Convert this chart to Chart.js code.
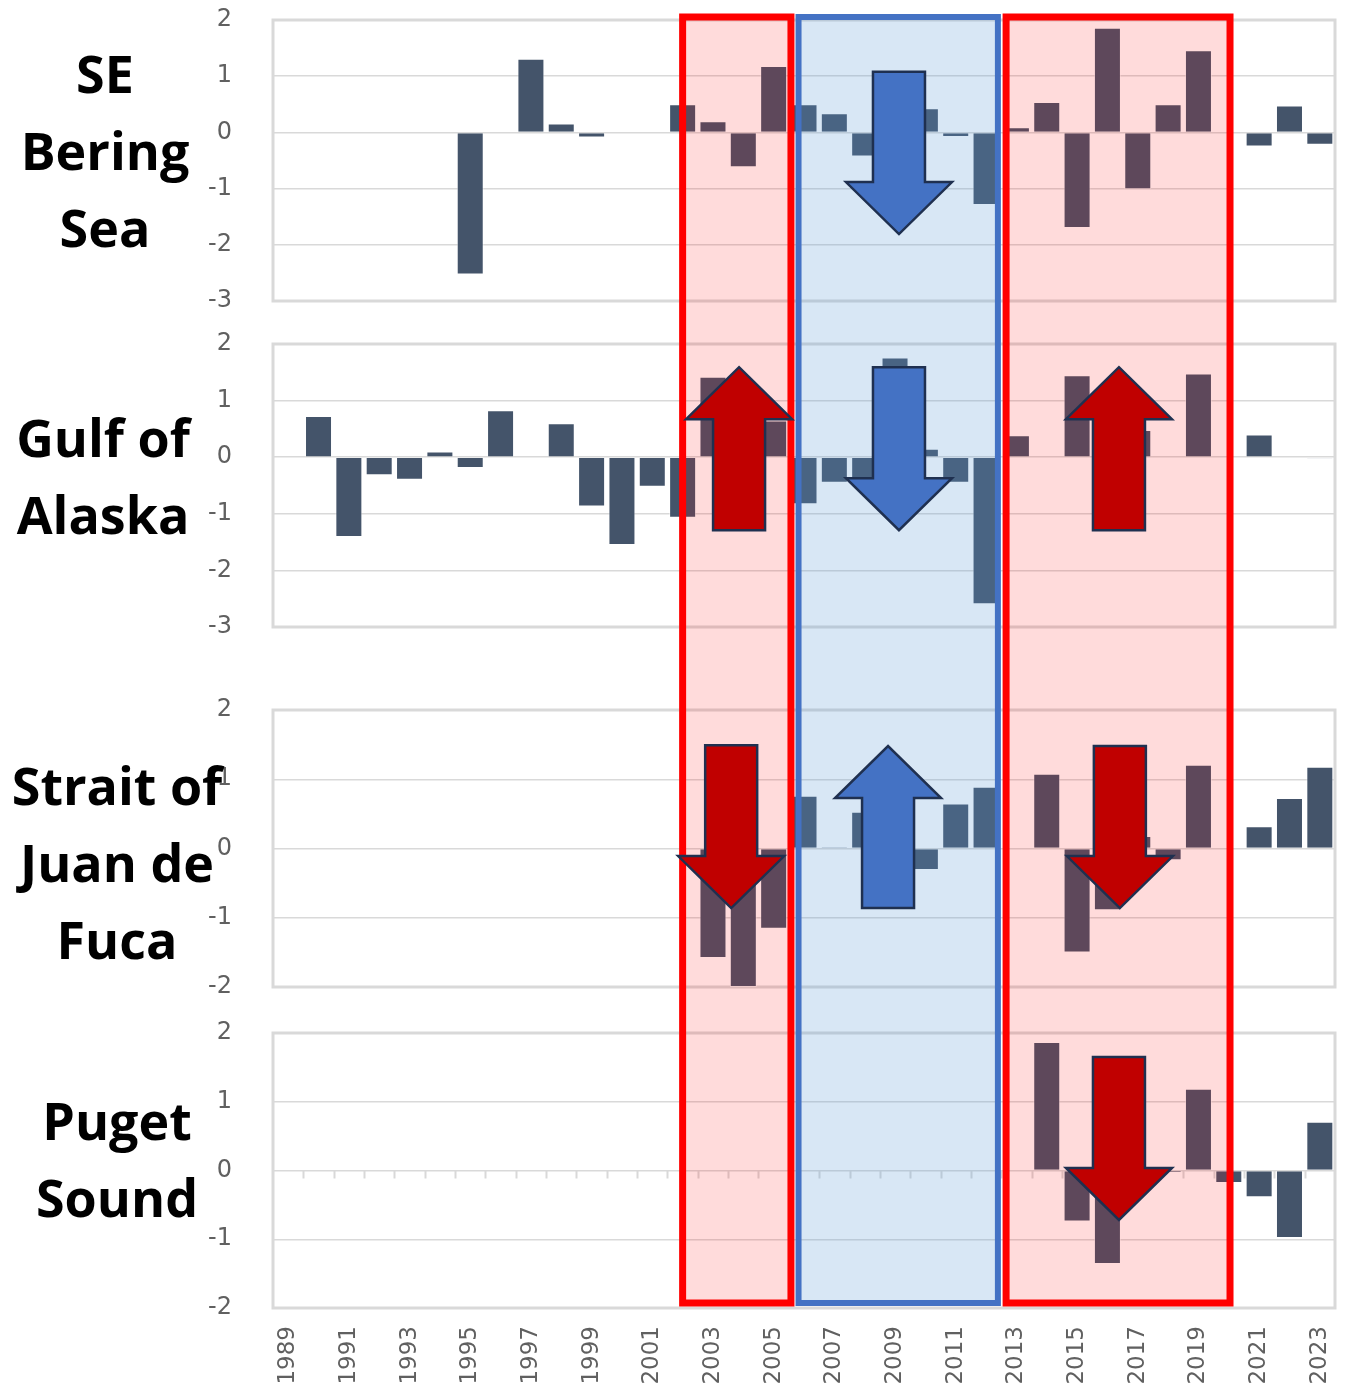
<!DOCTYPE html>
<html lang="en">
<head>
    <meta charset="UTF-8">
    <title>Regional anomalies 1989-2023</title>
    <script src="https://cdn.jsdelivr.net/npm/chart.js"></script>
    <style>
        body {
            margin: 0;
            background: #fff;
        }
        #wrap {
            position: relative;
            width: 1354px;
            height: 1383px;
            overflow: hidden;
        }
        #wrap canvas {
            position: absolute;
            left: 0;
            z-index: 1;
        }
        #overlay {
            top: 0;
            z-index: 2 !important;
            pointer-events: none;
        }
        .title {
            position: absolute;
            z-index: 3;
            font-family: 'Open Sans', sans-serif;
            font-weight: 700;
            font-size: 52px;
            line-height: 77px;
            text-align: center;
            color: #000;
            white-space: nowrap;
        }
    </style>
</head>
<body>
<div id="wrap">
    <canvas id="c1" width="1354" height="321" style="top:0px"></canvas>
    <canvas id="c2" width="1354" height="323" style="top:324px"></canvas>
    <canvas id="c3" width="1354" height="317" style="top:690px"></canvas>
    <canvas id="c4" width="1354" height="370" style="top:1013px"></canvas>
    <canvas id="overlay" width="1354" height="1383"></canvas>

    <div class="title" style="left:0;width:210px;top:34px">SE<br>Bering<br>Sea</div>
    <div class="title" style="left:0;width:206px;top:398px">Gulf of<br>Alaska</div>
    <div class="title" style="left:0;width:234px;top:746px">Strait of<br>Juan de<br>Fuca</div>
    <div class="title" style="left:0;width:234px;top:1081px">Puget<br>Sound</div>
</div>

<script>
    // years on the shared x axis
    const years = ['1989','1990','1991','1992','1993','1994','1995','1996','1997','1998',
                   '1999','2000','2001','2002','2003','2004','2005','2006','2007','2008',
                   '2009','2010','2011','2012','2013','2014','2015','2016','2017','2018',
                   '2019','2020','2021','2022','2023'];
    const xTickLabels = ['1989','1991','1993','1995','1997','1999','2001','2003','2005',
                         '2007','2009','2011','2013','2015','2017','2019','2021','2023'];

    // anomaly values per region (null = no data)
    const bering = [null, null, null, null, null, null, -2.53, null, 1.31, 0.16,
                    -0.09, -0.02, null, 0.50, 0.20, -0.62, 1.18, 0.50, 0.34, -0.43,
                    -0.35, 0.43, -0.08, -1.29, 0.09, 0.54, -1.70, 1.86, -1.01, 0.50,
                    1.46, null, -0.25, 0.48, -0.22];
    const gulf = [null, 0.73, -1.41, -0.32, -0.40, 0.10, -0.19, 0.83, null, 0.60,
                  -0.87, -1.55, -0.52, -1.07, 1.42, 0.90, 0.65, -0.83, -0.45, -0.42,
                  1.76, 0.15, -0.45, -2.60, 0.39, null, 1.45, 0.80, 0.48, null,
                  1.48, null, 0.40, null, -0.02];
    const juanDeFuca = [null, null, null, null, null, null, null, null, null, null,
                        null, null, null, null, -1.58, -2.00, -1.16, 0.76, 0.02, 0.53,
                        0.50, -0.31, 0.65, 0.89, null, 1.08, -1.50, -0.89, 0.18, -0.17,
                        1.21, null, 0.32, 0.73, 1.18];
    const puget = [null, null, null, null, null, null, null, null, null, null,
                   null, null, null, null, null, null, null, null, null, null,
                   null, null, null, null, null, 1.87, -0.74, -1.36, -0.10, -0.03,
                   1.19, -0.18, -0.39, -0.98, 0.71];

    // y ranges of each panel
    const yRanges = [[-3, 2], [-3, 2], [-2, 2], [-2, 2]];

    // highlighted periods (fractional years) and arrows (panel, year, from value, to value)
    const periods = [
        { from: 2005.82, to: 2012.39, fill: 'rgba(91,155,213,0.24)', stroke: '#4472c4', width: 6 },
        { from: 2002.0, to: 2005.57, fill: 'rgba(255,0,0,0.14)', stroke: '#ff0000', width: 7 },
        { from: 2012.66, to: 2020.04, fill: 'rgba(255,0,0,0.14)', stroke: '#ff0000', width: 7 }
    ];
    const arrows = [
        { panel: 0, year: 2009.13, from: 1.08, to: -1.81, color: '#4472c4' },
        { panel: 1, year: 2003.86, from: -1.29, to: 1.59, color: '#c00000' },
        { panel: 1, year: 2009.13, from: 1.59, to: -1.29, color: '#4472c4' },
        { panel: 1, year: 2016.38, from: -1.29, to: 1.59, color: '#c00000' },
        { panel: 2, year: 2003.60, from: 1.49, to: -0.86, color: '#c00000' },
        { panel: 2, year: 2008.77, from: -0.86, to: 1.48, color: '#4472c4' },
        { panel: 2, year: 2016.41, from: 1.48, to: -0.86, color: '#c00000' },
        { panel: 3, year: 2016.38, from: 1.65, to: -0.72, color: '#c00000' }
    ];

    const tickFont = { family: 'DejaVu Sans', size: 24 };
    const tickColor = '#606060';

    // grey frame round the plot area, plus small ticks on the zero line
    const framePlugin = {
        id: 'frame',
        beforeDatasetsDraw(chart) {
            const a = chart.chartArea;
            const ctx = chart.ctx;
            ctx.save();
            ctx.strokeStyle = '#d9d9d9';
            if (chart.options.zeroTicks) {
                const y0 = chart.scales.y.getPixelForValue(0);
                const w = (a.right - a.left) / years.length;
                ctx.lineWidth = 2;
                ctx.beginPath();
                for (let i = 1; i < years.length; i++) {
                    const x = Math.round(a.left + i * w) + 0.5;
                    ctx.moveTo(x, y0);
                    ctx.lineTo(x, y0 + 8);
                }
                ctx.stroke();
            }
            ctx.lineWidth = 3;
            ctx.strokeRect(a.left, a.top, a.right - a.left, a.bottom - a.top);
            ctx.restore();
        }
    };

    function makePanel(id, values, range, showX) {
        return new Chart(document.getElementById(id), {
            type: 'bar',
            data: {
                labels: years,
                datasets: [{
                    data: values,
                    backgroundColor: '#44546a',
                    borderColor: 'rgba(255,255,255,0.5)',
                    borderWidth: 1,
                    barPercentage: 0.89,
                    categoryPercentage: 1
                }]
            },
            options: {
                responsive: false,
                animation: false,
                zeroTicks: showX,
                layout: { padding: { top: 20, bottom: showX ? 0 : 20, left: 0, right: 19 } },
                plugins: { legend: { display: false }, tooltip: { enabled: false } },
                scales: {
                    x: {
                        display: showX,
                        grid: { display: false },
                        border: { display: false },
                        ticks: {
                            autoSkip: false,
                            minRotation: 90,
                            maxRotation: 90,
                            padding: 10,
                            color: tickColor,
                            font: { family: 'DejaVu Sans', size: 23 },
                            callback: (v, i) => xTickLabels.includes(years[i]) ? years[i] : ''
                        },
                        afterFit: s => {
                            s.height = showX ? 75 : 0;
                            s.paddingLeft = 0;
                            s.paddingRight = 0;
                        }
                    },
                    y: {
                        min: range[0],
                        max: range[1],
                        ticks: { stepSize: 1, padding: 41, color: tickColor, font: tickFont },
                        grid: { color: '#d9d9d9', lineWidth: 1.5, drawTicks: false },
                        border: { display: false },
                        afterFit: s => {
                            s.width = 273;
                            s.paddingTop = 0;
                            s.paddingBottom = 0;
                        }
                    }
                }
            },
            plugins: [framePlugin]
        });
    }

    const charts = [
        makePanel('c1', bering, yRanges[0], false),
        makePanel('c2', gulf, yRanges[1], false),
        makePanel('c3', juanDeFuca, yRanges[2], false),
        makePanel('c4', puget, yRanges[3], true)
    ];
    const canvasTops = [0, 324, 690, 1013];

    function xPix(year) {
        return charts[3].scales.x.getPixelForValue(year - 1989);
    }
    function yPix(panel, v) {
        return canvasTops[panel] + charts[panel].scales.y.getPixelForValue(v);
    }

    function drawArrow(ctx, cx, y0, y1, color) {
        const dir = y1 > y0 ? 1 : -1;
        const hb = y1 - dir * 52;
        ctx.beginPath();
        ctx.moveTo(cx - 26, y0);
        ctx.lineTo(cx - 26, hb);
        ctx.lineTo(cx - 53, hb);
        ctx.lineTo(cx, y1);
        ctx.lineTo(cx + 53, hb);
        ctx.lineTo(cx + 26, hb);
        ctx.lineTo(cx + 26, y0);
        ctx.closePath();
        ctx.fillStyle = color;
        ctx.fill();
        ctx.lineWidth = 2.5;
        ctx.strokeStyle = '#1f3050';
        ctx.stroke();
    }

    // period boxes and arrows on top of the four panels
    const octx = document.getElementById('overlay').getContext('2d');
    const boxTop = yPix(0, yRanges[0][1]) - 3;
    const boxBottom = yPix(3, yRanges[3][0]) - 5;
    periods.forEach(p => {
        const x0 = xPix(p.from), x1 = xPix(p.to);
        octx.fillStyle = p.fill;
        octx.fillRect(x0, boxTop, x1 - x0, boxBottom - boxTop);
    });
    periods.forEach(p => {
        const x0 = xPix(p.from), x1 = xPix(p.to);
        octx.lineWidth = p.width;
        octx.strokeStyle = p.stroke;
        octx.strokeRect(x0, boxTop, x1 - x0, boxBottom - boxTop);
    });
    arrows.forEach(a => {
        drawArrow(octx, xPix(a.year), yPix(a.panel, a.from), yPix(a.panel, a.to), a.color);
    });
</script>
</body>
</html>
